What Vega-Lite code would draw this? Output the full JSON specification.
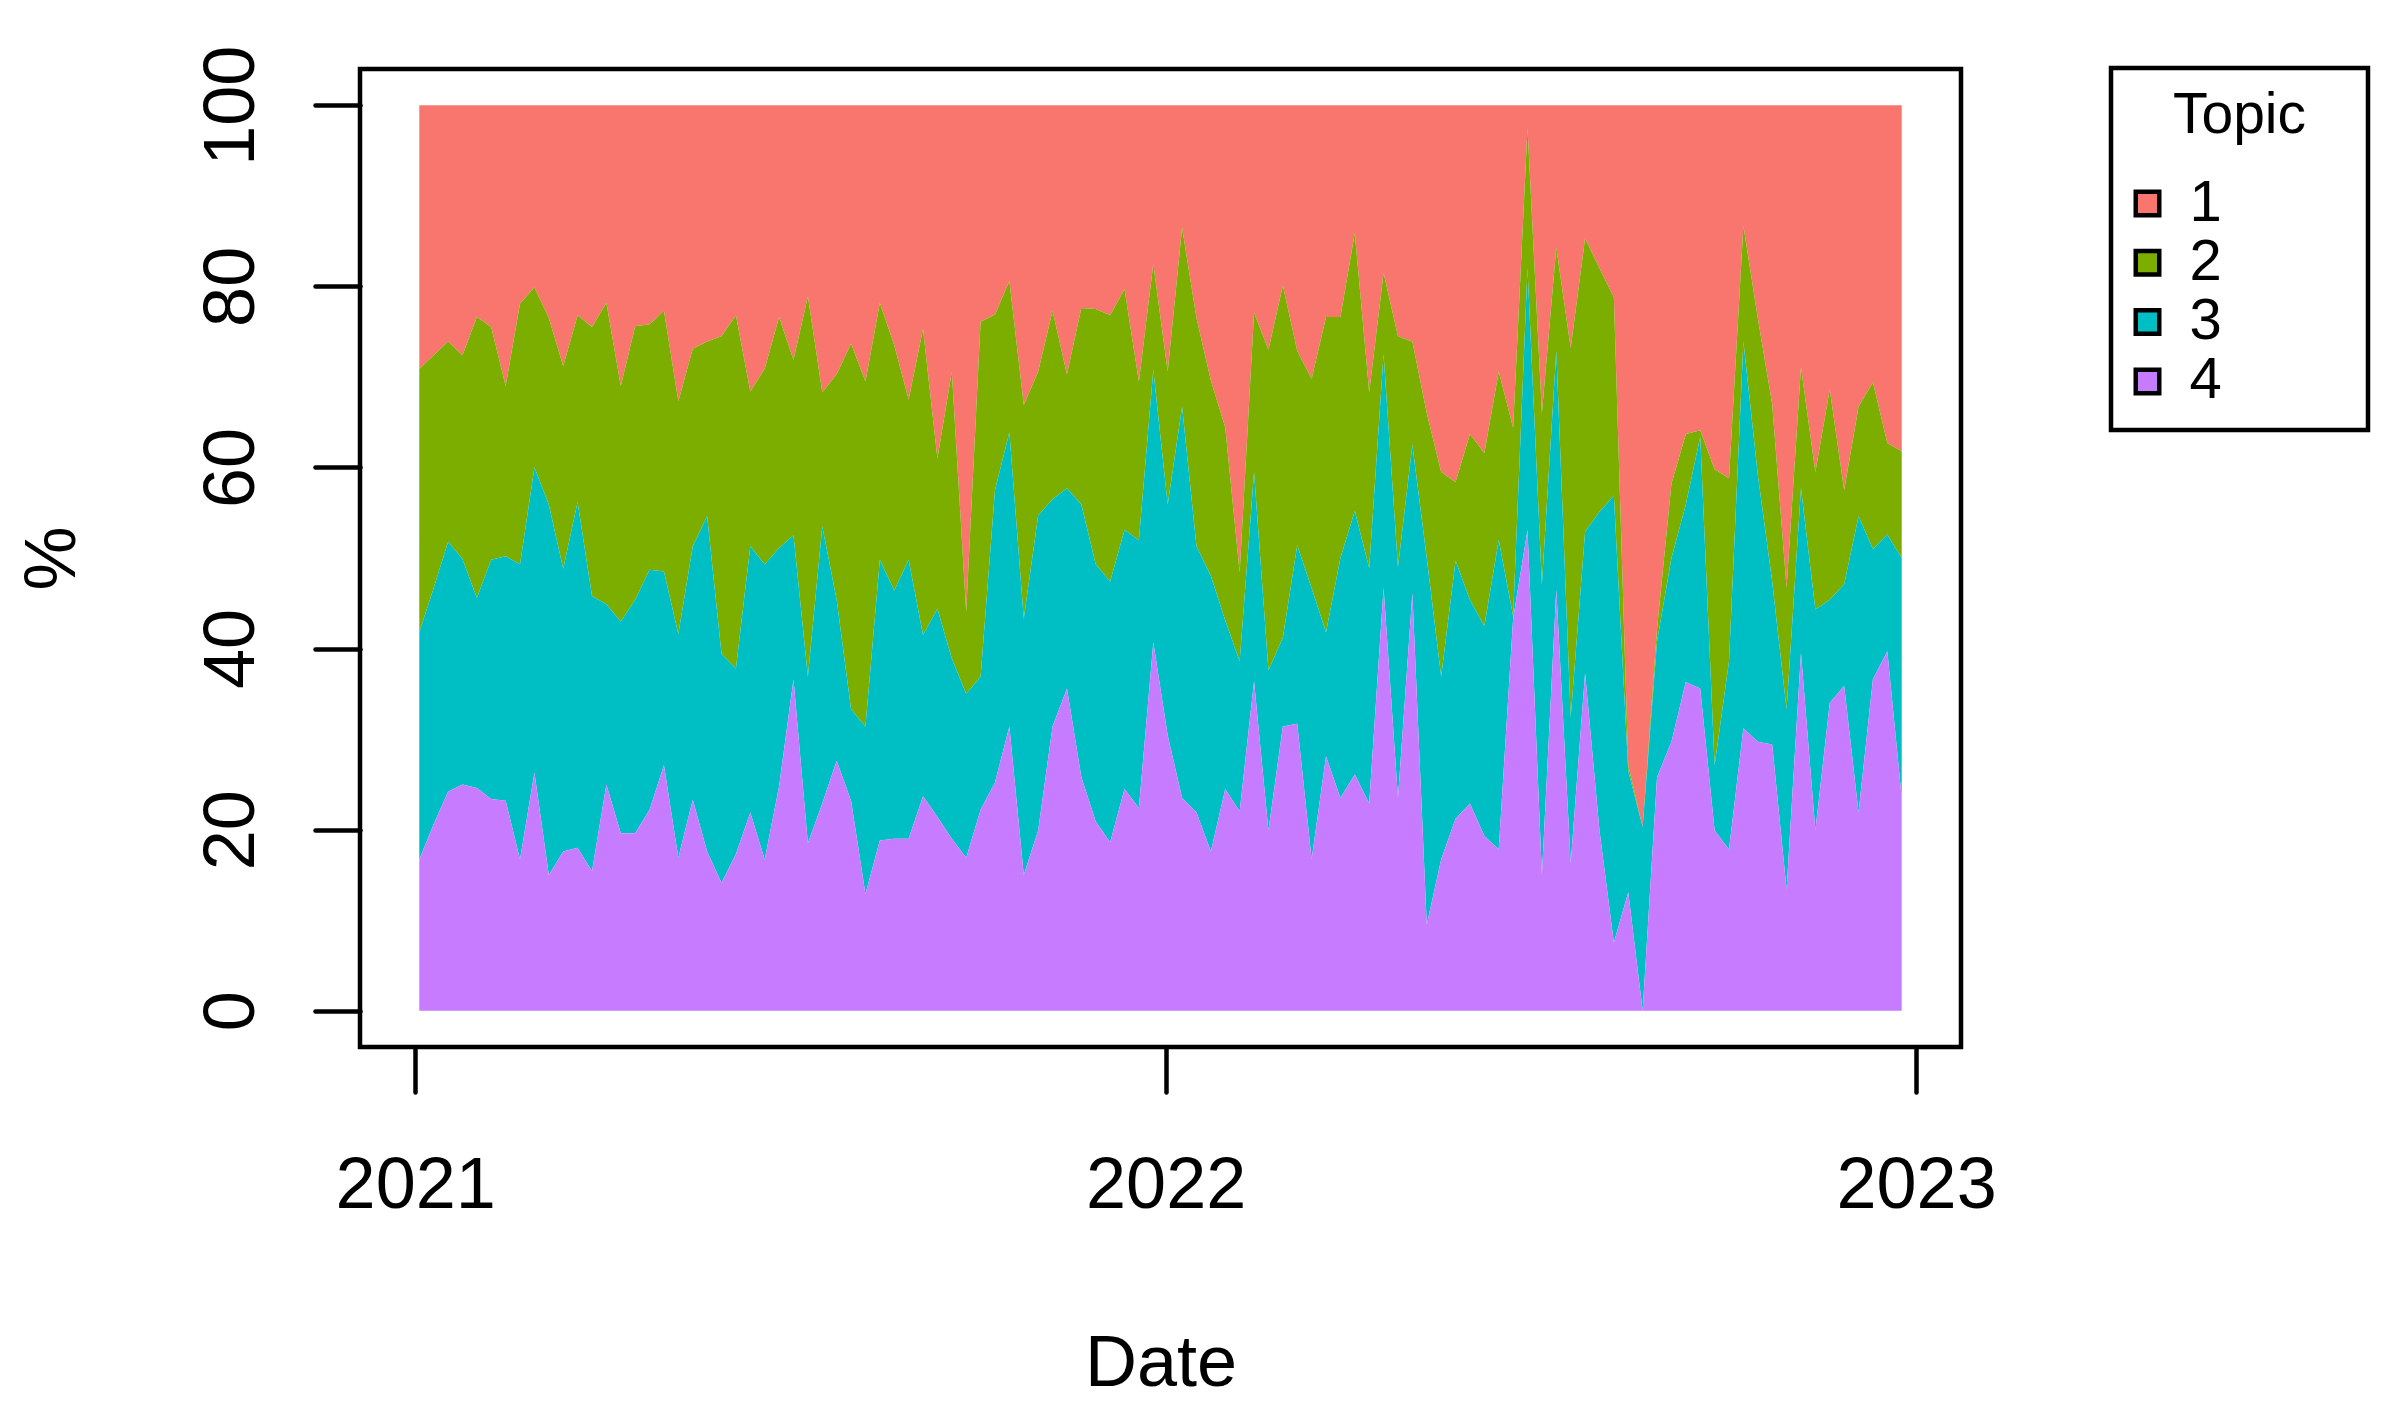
{
"$schema": "https://vega.github.io/schema/vega-lite/v6.json",
"width": 1601,
"height": 978,
"autosize": {"type": "none"},
"padding": {"left": 360, "top": 69, "right": 439, "bottom": 367},
"background": "white",
"config": {
  "font": "Liberation Sans",
  "view": {"stroke": "black", "strokeWidth": 4.5, "fill": null},
  "axis": {"domain": false, "grid": false, "tickSize": 45, "tickWidth": 4.5, "tickColor": "black", "tickCap": "round", "labelFont": "Liberation Sans", "labelFontSize": 72, "labelColor": "black", "labelFlush": false, "labelOverlap": false, "titleFont": "Liberation Sans", "titleFontSize": 72, "titleFontWeight": "normal", "titleColor": "black"}
},
"data": {"values": [
{"date":"2021-01-03","1":29.1,"2":29.1,"3":25.1,"4":16.7},
{"date":"2021-01-10","1":27.6,"2":25.7,"3":26.1,"4":20.6},
{"date":"2021-01-17","1":26.1,"2":22.1,"3":27.6,"4":24.2},
{"date":"2021-01-24","1":27.6,"2":22.5,"3":24.9,"4":25.0},
{"date":"2021-01-31","1":23.4,"2":31.0,"3":21.0,"4":24.6},
{"date":"2021-02-07","1":24.5,"2":25.7,"3":26.4,"4":23.4},
{"date":"2021-02-14","1":31.0,"2":18.8,"3":27.0,"4":23.2},
{"date":"2021-02-21","1":21.9,"2":28.8,"3":32.6,"4":16.7},
{"date":"2021-02-28","1":20.1,"2":19.9,"3":33.7,"4":26.3},
{"date":"2021-03-07","1":23.5,"2":20.6,"3":40.9,"4":15.0},
{"date":"2021-03-14","1":28.8,"2":22.4,"3":31.2,"4":17.6},
{"date":"2021-03-21","1":23.2,"2":20.6,"3":38.2,"4":18.0},
{"date":"2021-03-28","1":24.5,"2":29.7,"3":30.4,"4":15.4},
{"date":"2021-04-04","1":21.8,"2":33.3,"3":19.9,"4":25.0},
{"date":"2021-04-11","1":31.0,"2":26.0,"3":23.4,"4":19.6},
{"date":"2021-04-18","1":24.4,"2":30.2,"3":25.8,"4":19.6},
{"date":"2021-04-25","1":24.2,"2":27.1,"3":26.5,"4":22.2},
{"date":"2021-05-02","1":22.7,"2":28.8,"3":21.4,"4":27.1},
{"date":"2021-05-09","1":32.7,"2":25.7,"3":24.7,"4":16.9},
{"date":"2021-05-16","1":26.9,"2":21.8,"3":28.0,"4":23.3},
{"date":"2021-05-23","1":26.1,"2":19.3,"3":37.0,"4":17.6},
{"date":"2021-05-30","1":25.5,"2":35.1,"3":25.3,"4":14.1},
{"date":"2021-06-06","1":23.2,"2":39.0,"3":20.5,"4":17.3},
{"date":"2021-06-13","1":31.6,"2":17.1,"3":29.4,"4":21.9},
{"date":"2021-06-20","1":29.1,"2":21.6,"3":32.6,"4":16.7},
{"date":"2021-06-27","1":23.4,"2":25.5,"3":26.3,"4":24.8},
{"date":"2021-07-04","1":28.1,"2":19.4,"3":15.9,"4":36.6},
{"date":"2021-07-11","1":21.1,"2":42.0,"3":18.4,"4":18.5},
{"date":"2021-07-18","1":31.7,"2":14.8,"3":30.6,"4":22.9},
{"date":"2021-07-25","1":29.7,"2":24.9,"3":17.8,"4":27.6},
{"date":"2021-08-01","1":26.3,"2":40.4,"3":10.1,"4":23.2},
{"date":"2021-08-08","1":30.5,"2":38.1,"3":18.5,"4":12.9},
{"date":"2021-08-15","1":21.8,"2":28.4,"3":31.0,"4":18.8},
{"date":"2021-08-22","1":26.5,"2":27.1,"3":27.4,"4":19.0},
{"date":"2021-08-29","1":32.5,"2":17.7,"3":30.8,"4":19.0},
{"date":"2021-09-05","1":24.7,"2":33.8,"3":17.8,"4":23.7},
{"date":"2021-09-12","1":39.0,"2":16.6,"3":23.0,"4":21.4},
{"date":"2021-09-19","1":29.4,"2":31.7,"3":19.9,"4":19.0},
{"date":"2021-09-26","1":55.9,"2":9.1,"3":18.1,"4":16.9},
{"date":"2021-10-03","1":23.9,"2":39.2,"3":14.7,"4":22.2},
{"date":"2021-10-10","1":23.1,"2":19.4,"3":32.3,"4":25.2},
{"date":"2021-10-17","1":19.4,"2":16.7,"3":32.5,"4":31.4},
{"date":"2021-10-24","1":33.1,"2":23.6,"3":28.3,"4":15.0},
{"date":"2021-10-31","1":29.4,"2":15.9,"3":34.8,"4":19.9},
{"date":"2021-11-07","1":22.7,"2":20.8,"3":25.1,"4":31.4},
{"date":"2021-11-14","1":29.7,"2":12.6,"3":22.1,"4":35.6},
{"date":"2021-11-21","1":22.4,"2":21.7,"3":30.1,"4":25.8},
{"date":"2021-11-28","1":22.5,"2":28.2,"3":28.4,"4":20.9},
{"date":"2021-12-05","1":23.2,"2":29.4,"3":28.8,"4":18.6},
{"date":"2021-12-12","1":20.3,"2":26.6,"3":28.6,"4":24.5},
{"date":"2021-12-19","1":30.5,"2":17.5,"3":29.6,"4":22.4},
{"date":"2021-12-26","1":17.5,"2":11.7,"3":30.1,"4":40.7},
{"date":"2022-01-02","1":29.4,"2":14.7,"3":25.5,"4":30.4},
{"date":"2022-01-09","1":13.5,"2":19.8,"3":43.2,"4":23.5},
{"date":"2022-01-16","1":23.5,"2":25.2,"3":29.4,"4":21.9},
{"date":"2022-01-23","1":30.4,"2":21.6,"3":30.4,"4":17.6},
{"date":"2022-01-30","1":35.6,"2":21.3,"3":18.6,"4":24.5},
{"date":"2022-02-06","1":51.6,"2":9.8,"3":16.6,"4":22.0},
{"date":"2022-02-13","1":22.9,"2":17.6,"3":23.1,"4":36.4},
{"date":"2022-02-20","1":27.0,"2":35.4,"3":17.7,"4":19.9},
{"date":"2022-02-27","1":19.9,"2":38.9,"3":9.8,"4":31.4},
{"date":"2022-03-06","1":27.1,"2":21.5,"3":19.7,"4":31.7},
{"date":"2022-03-13","1":30.2,"2":23.1,"3":30.0,"4":16.7},
{"date":"2022-03-20","1":23.4,"2":34.8,"3":13.7,"4":28.1},
{"date":"2022-03-27","1":23.4,"2":26.6,"3":26.5,"4":23.5},
{"date":"2022-04-03","1":14.1,"2":30.7,"3":29.1,"4":26.1},
{"date":"2022-04-10","1":31.7,"2":19.4,"3":26.0,"4":22.9},
{"date":"2022-04-17","1":18.5,"2":9.0,"3":25.8,"4":46.7},
{"date":"2022-04-24","1":25.5,"2":25.5,"3":25.5,"4":23.5},
{"date":"2022-05-01","1":26.1,"2":11.4,"3":16.4,"4":46.1},
{"date":"2022-05-08","1":34.0,"2":16.0,"3":40.5,"4":9.5},
{"date":"2022-05-15","1":40.5,"2":22.6,"3":20.2,"4":16.7},
{"date":"2022-05-22","1":41.6,"2":8.7,"3":28.5,"4":21.2},
{"date":"2022-05-29","1":36.3,"2":18.3,"3":22.5,"4":22.9},
{"date":"2022-06-05","1":38.4,"2":19.1,"3":23.2,"4":19.3},
{"date":"2022-06-12","1":29.4,"2":18.6,"3":34.2,"4":17.8},
{"date":"2022-06-19","1":35.6,"2":20.8,"3":0.3,"4":43.3},
{"date":"2022-06-26","1":2.5,"2":15.5,"3":28.9,"4":53.1},
{"date":"2022-07-03","1":34.0,"2":18.9,"3":32.1,"4":15.0},
{"date":"2022-07-10","1":15.7,"2":11.4,"3":26.4,"4":46.5},
{"date":"2022-07-17","1":26.8,"2":40.8,"3":16.1,"4":16.3},
{"date":"2022-07-24","1":14.7,"2":32.4,"3":15.6,"4":37.3},
{"date":"2022-07-31","1":18.0,"2":26.9,"3":35.2,"4":19.9},
{"date":"2022-08-07","1":21.2,"2":21.9,"3":49.4,"4":7.5},
{"date":"2022-08-14","1":72.9,"2":0.6,"3":13.4,"4":13.1},
{"date":"2022-08-21","1":79.7,"2":0.0,"3":20.3,"4":0.0},
{"date":"2022-08-28","1":57.8,"2":1.4,"3":15.0,"4":25.8},
{"date":"2022-09-04","1":41.8,"2":8.2,"3":20.3,"4":29.7},
{"date":"2022-09-11","1":36.3,"2":7.8,"3":19.6,"4":36.3},
{"date":"2022-09-18","1":35.9,"2":0.7,"3":27.8,"4":35.6},
{"date":"2022-09-25","1":40.2,"2":32.7,"3":7.2,"4":19.9},
{"date":"2022-10-02","1":41.2,"2":20.2,"3":20.8,"4":17.8},
{"date":"2022-10-09","1":13.3,"2":12.8,"3":42.7,"4":31.2},
{"date":"2022-10-16","1":23.5,"2":17.3,"3":29.5,"4":29.7},
{"date":"2022-10-23","1":33.0,"2":19.6,"3":18.0,"4":29.4},
{"date":"2022-10-30","1":53.3,"2":13.4,"3":19.9,"4":13.4},
{"date":"2022-11-06","1":28.9,"2":13.4,"3":18.2,"4":39.5},
{"date":"2022-11-13","1":40.5,"2":15.2,"3":24.4,"4":19.9},
{"date":"2022-11-20","1":31.4,"2":23.2,"3":11.4,"4":34.0},
{"date":"2022-11-27","1":42.5,"2":10.4,"3":11.2,"4":35.9},
{"date":"2022-12-04","1":33.3,"2":12.1,"3":32.7,"4":21.9},
{"date":"2022-12-11","1":30.6,"2":18.4,"3":14.4,"4":36.6},
{"date":"2022-12-18","1":37.3,"2":10.1,"3":12.9,"4":39.7},
{"date":"2022-12-25","1":38.2,"2":11.8,"3":26.5,"4":23.5}
]},
"transform": [{"fold": ["1", "2", "3", "4"], "as": ["Topic", "share"]}],
"mark": {"type": "area", "interpolate": "linear"},
"encoding": {
  "x": {"field": "date", "type": "temporal",
    "scale": {"type": "utc", "domain": [{"year": 2020, "month": 12, "date": 5, "hours": 4, "utc": true}, {"year": 2023, "month": 1, "date": 22, "hours": 20, "utc": true}]},
    "axis": {"values": [{"year": 2021, "month": 1, "date": 1, "utc": true}, {"year": 2022, "month": 1, "date": 1, "utc": true}, {"year": 2023, "month": 1, "date": 1, "utc": true}], "format": "%Y", "labelAlign": "center", "labelBaseline": "alphabetic", "labelPadding": 115, "title": "Date", "titleY": 338, "titleBaseline": "alphabetic"}},
  "y": {"field": "share", "type": "quantitative", "stack": "zero",
    "scale": {"domain": [-4, 104], "nice": false, "zero": false},
    "axis": {"values": [0, 20, 40, 60, 80, 100], "labelAngle": 270, "labelAlign": "center", "labelBaseline": "alphabetic", "labelPadding": 62, "title": "%", "titleAngle": 270, "titleAlign": "center", "titleBaseline": "alphabetic", "titleX": -286, "titleY": 489}},
  "color": {"field": "Topic", "type": "nominal",
    "scale": {"domain": ["1", "2", "3", "4"], "range": ["#F8766D", "#7CAE00", "#00BFC4", "#C77CFF"]},
    "legend": {"orient": "none", "legendX": 1751, "legendY": -1, "title": "Topic", "titleAnchor": "middle", "titleFont": "Liberation Sans", "titleFontSize": 57, "titleFontWeight": "normal", "titleColor": "black", "titlePadding": 30, "labelFont": "Liberation Sans", "labelFontSize": 58, "labelColor": "black", "labelOffset": 13, "labelExpr": "datum.label + '\u2800\u2800\u2800'", "symbolType": "square", "symbolSize": 552, "symbolStrokeColor": "black", "symbolStrokeWidth": 4.5, "symbolOffset": -12, "strokeColor": "black", "padding": 19.5, "rowPadding": 1.3,
      "encode": {"legend": {"update": {"strokeWidth": {"value": 4.5}}}, "symbols": {"update": {"stroke": {"value": "black"}, "strokeWidth": {"value": 4.5}}}}}},
  "order": {"field": "Topic", "sort": "descending"}
}
}
